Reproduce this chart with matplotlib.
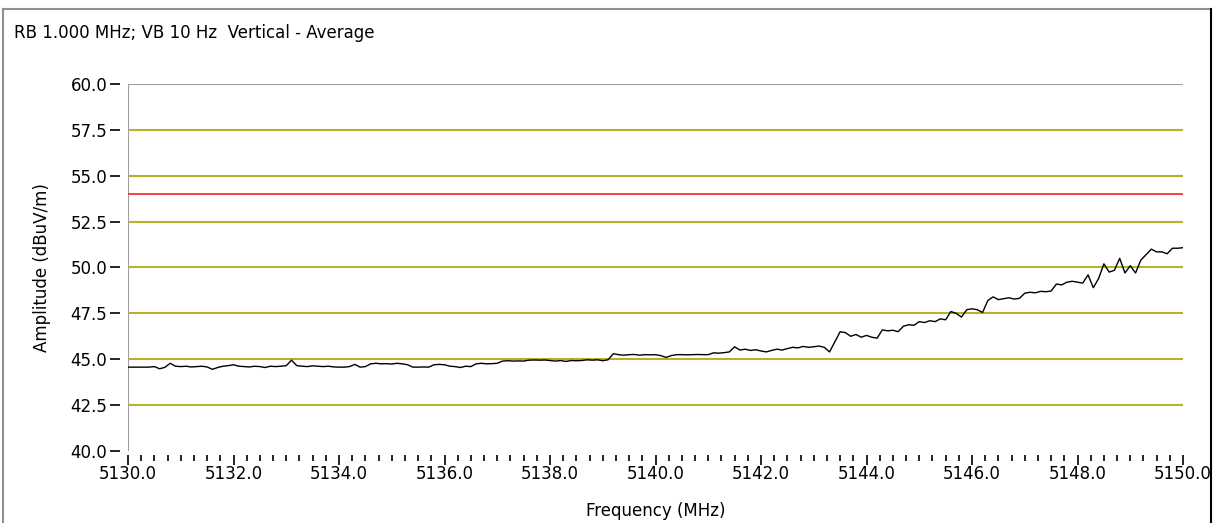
import numpy as np
import matplotlib.pyplot as plt
from matplotlib.lines import Line2D
from matplotlib.ticker import MultipleLocator, FormatStrFormatter

# measured trace, one point every 0.1 MHz from 5130.0 to 5150.0
freq = np.round(np.arange(5130.0, 5150.05, 0.1), 1)
amp = [
    44.57, 44.57, 44.57, 44.57, 44.57, 44.60, 44.48, 44.56, 44.78, 44.62,
    44.60, 44.62, 44.58, 44.60, 44.62, 44.58, 44.45, 44.55, 44.62, 44.65,
    44.70, 44.62, 44.60, 44.58, 44.62, 44.60, 44.55, 44.62, 44.60, 44.62,
    44.65, 44.95, 44.65, 44.62, 44.60, 44.64, 44.62, 44.60, 44.62, 44.58,
    44.57, 44.57, 44.60, 44.72, 44.57, 44.60, 44.75, 44.78, 44.75, 44.76,
    44.74, 44.78, 44.75, 44.70, 44.57, 44.57, 44.58, 44.57, 44.70, 44.72,
    44.70, 44.62, 44.60, 44.55, 44.62, 44.60, 44.75, 44.78, 44.75, 44.76,
    44.78, 44.90, 44.92, 44.90, 44.91, 44.90, 44.95, 44.96, 44.95, 44.96,
    44.93, 44.90, 44.93, 44.88, 44.93, 44.92, 44.93, 44.97, 44.95, 44.97,
    44.92, 44.97, 45.30, 45.25, 45.22, 45.25, 45.26, 45.22, 45.25, 45.24,
    45.25, 45.20, 45.10, 45.20, 45.25, 45.25, 45.24, 45.25, 45.26, 45.25,
    45.25, 45.35, 45.33, 45.36, 45.40, 45.68, 45.50, 45.55, 45.48, 45.52,
    45.45, 45.40, 45.48, 45.55, 45.50, 45.58, 45.65, 45.62, 45.70, 45.65,
    45.68, 45.72, 45.65, 45.40, 45.95, 46.50, 46.45, 46.25, 46.35, 46.20,
    46.30, 46.20, 46.15, 46.60, 46.55, 46.58, 46.50, 46.80, 46.88, 46.85,
    47.05, 47.00, 47.10, 47.05, 47.20, 47.15, 47.60, 47.50, 47.30, 47.70,
    47.75, 47.70, 47.55, 48.20, 48.40, 48.25, 48.30, 48.35, 48.28, 48.32,
    48.60, 48.65, 48.62, 48.70, 48.68, 48.72, 49.10, 49.05, 49.20, 49.25,
    49.20, 49.15, 49.60, 48.90, 49.40, 50.20, 49.75, 49.85, 50.50, 49.70,
    50.10, 49.70, 50.40, 50.70, 51.00, 50.85, 50.85, 50.75, 51.05, 51.05,
    51.08,
]
limit = 54.0
grid_levels = [42.5, 45.0, 47.5, 50.0, 52.5, 55.0, 57.5]

plt.rcParams['font.family'] = 'DejaVu Sans'

W, H = 1217, 523
fig = plt.figure(figsize=(W / 100, H / 100), dpi=100)
ax = fig.add_axes([128 / W, (H - 451) / H, (1183 - 128) / W, (451 - 84) / H])

for g in grid_levels:
    ax.axhline(g, color='#b4b42c', lw=1.5, zorder=1)
ax.axhline(60.0, color='#a0a0a0', lw=1.5, zorder=1)
ax.axvline(5130.0, color='#a0a0a0', lw=1.5, zorder=1)
ax.axhline(limit, color='#ff3030', lw=1.3, zorder=2)
ax.plot(freq, amp, color='black', lw=1.0, zorder=3)

ax.set_xlim(5130, 5150)
ax.set_ylim(40, 60)
for s in ['top', 'right']:
    ax.spines[s].set_visible(False)
ax.spines['left'].set_position(('outward', 6))
ax.spines['left'].set_visible(False)
ax.spines['bottom'].set_position(('outward', 3))
ax.spines['bottom'].set_visible(False)

ax.xaxis.set_major_locator(MultipleLocator(2))
ax.xaxis.set_minor_locator(MultipleLocator(0.25))
ax.xaxis.set_major_formatter(FormatStrFormatter('%.1f'))
ax.yaxis.set_major_locator(MultipleLocator(2.5))
ax.yaxis.set_major_formatter(FormatStrFormatter('%.1f'))
ax.tick_params(axis='y', length=7, width=1.2, labelsize=12, pad=2)
ax.tick_params(axis='x', which='major', length=7, width=1.2, labelsize=12, pad=0)
ax.tick_params(axis='x', which='minor', length=4, width=1.2)

ax.set_xlabel('Frequency (MHz)', fontsize=12, labelpad=14)
ax.set_ylabel('Amplitude (dBuV/m)', fontsize=12, labelpad=14)

fig.text(14 / W, 1 - 33 / H, 'RB 1.000 MHz; VB 10 Hz  Vertical - Average',
         fontsize=12, va='center', ha='left')

# window frame
fig.add_artist(Line2D([3 / W, 3 / W], [0, 1 - 9 / H], color='#909090', lw=1.5))
fig.add_artist(Line2D([3 / W, 1211 / W], [1 - 9 / H, 1 - 9 / H], color='#909090', lw=1.5))
fig.add_artist(Line2D([1211 / W, 1211 / W], [0, 1 - 9 / H], color='black', lw=1.5))

fig.savefig('out.png', dpi=100)
